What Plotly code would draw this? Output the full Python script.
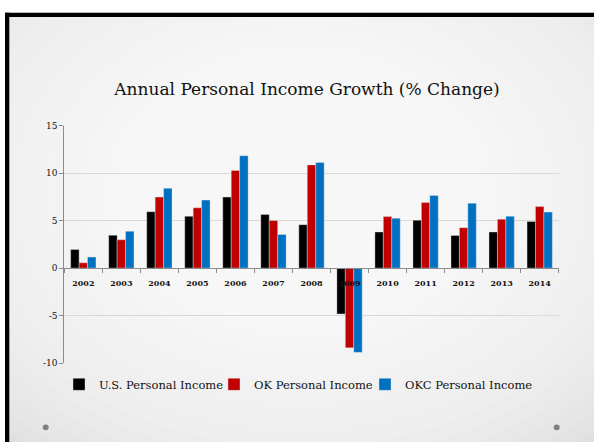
import plotly.graph_objects as go

years = ["2002", "2003", "2004", "2005", "2006", "2007", "2008",
         "2009", "2010", "2011", "2012", "2013", "2014"]
us_income = [1.95, 3.46, 5.93, 5.45, 7.47, 5.65, 4.56, -4.83, 3.8, 5.04, 3.43, 3.8, 4.9]
ok_income = [0.55, 2.98, 7.47, 6.34, 10.28, 5.0, 10.86, -8.39, 5.42, 6.89, 4.25, 5.14, 6.47]
okc_income = [1.16, 3.87, 8.4, 7.16, 11.82, 3.53, 11.1, -8.87, 5.24, 7.64, 6.82, 5.45, 5.89]
y_ticks = [-10, -5, 0, 5, 10, 15]

W, H = 594, 447
def px(x):
    return x / W
def py(y):
    return (H - y) / H

SERIF = "DejaVu Serif"

fig = go.Figure()
series = [("U.S. Personal Income", us_income, "#000000", "legend"),
          ("OK Personal Income", ok_income, "#C00000", "legend2"),
          ("OKC Personal Income", okc_income, "#0070C0", "legend3")]
for name, vals, col, lg in series:
    fig.add_trace(go.Bar(x=years, y=vals, name=name, legend=lg,
                         marker=dict(color=col, line=dict(color="rgba(230,230,230,0.8)", width=0.5))))

shapes = []
# slide background
shapes.append(dict(type="rect", xref="paper", yref="paper", x0=px(5), x1=px(594), y0=py(447), y1=py(8),
                   fillcolor="#d9d9d9", line=dict(width=0), layer="below"))
# radial gradient approximation
cx, cy = 300, 190
n = 26
for i in range(n):
    f = 1 - i / n
    rx, ry = 470 * f, 360 * f
    shapes.append(dict(type="circle", xref="paper", yref="paper",
                       x0=px(cx - rx), x1=px(cx + rx), y0=py(cy + ry), y1=py(cy - ry),
                       fillcolor="rgba(255,255,255,0.11)", line=dict(width=0), layer="below"))
# white margin outside slide (cover gradient overflow)
shapes.append(dict(type="rect", xref="paper", yref="paper", x0=0, x1=px(5), y0=0, y1=1,
                   fillcolor="white", line=dict(width=0), layer="below"))
shapes.append(dict(type="rect", xref="paper", yref="paper", x0=0, x1=1, y0=py(8), y1=1,
                   fillcolor="white", line=dict(width=0), layer="below"))
# black frame
shapes.append(dict(type="rect", xref="paper", yref="paper", x0=px(5), x1=px(9.3), y0=0, y1=py(8),
                   fillcolor="black", line=dict(width=0), layer="above"))
shapes.append(dict(type="rect", xref="paper", yref="paper", x0=px(5), x1=1, y0=py(12.3), y1=py(8),
                   fillcolor="black", line=dict(width=0), layer="above"))
# dots
for dx in (45.7, 556.7):
    shapes.append(dict(type="circle", xref="paper", yref="paper",
                       x0=px(dx - 3), x1=px(dx + 3), y0=py(432 + 3), y1=py(432 - 3),
                       fillcolor="#7f7f7f", line=dict(width=0)))

y_dom = [py(366.3), py(123.3)]
zero_pos = y_dom[0] + (0 - (-10)) / 25 * (y_dom[1] - y_dom[0])

def leg(xleft):
    return dict(orientation="h", x=px(xleft), xanchor="left", y=py(388), yanchor="middle",
                font=dict(family=SERIF, size=11.5, color="#111111"), bgcolor="rgba(0,0,0,0)",
                itemwidth=30)

fig.update_layout(
    width=W, height=H, autosize=False,
    margin=dict(l=0, r=0, t=0, b=0),
    paper_bgcolor="white", plot_bgcolor="white",
    barmode="group", bargap=0.335, bargroupgap=0,
    shapes=shapes,
    title=dict(text="Annual Personal Income Growth (% Change)", x=px(307), xanchor="center",
               y=py(89), yanchor="middle", font=dict(family=SERIF, size=17, color="#111111")),
    xaxis=dict(domain=[px(64.3), px(558.7)], anchor="free", position=zero_pos,
               showline=True, linecolor="#8c8c8c", linewidth=1,
               ticks="outside", tickson="boundaries", ticklen=4, tickcolor="#8c8c8c",
               ticklabelstandoff=7,
               tickfont=dict(family=SERIF, size=8, color="#111111"),
               showgrid=False, fixedrange=True),
    yaxis=dict(domain=y_dom, range=[-10, 15], tickvals=y_ticks, ticktext=[str(v) for v in y_ticks],
               showline=True, linecolor="#8c8c8c", linewidth=1,
               ticks="outside", ticklen=4, tickcolor="#8c8c8c",
               showgrid=True, gridcolor="#d9d9d9", gridwidth=1, zeroline=False,
               tickfont=dict(family=SERIF, size=9, color="#111111"), fixedrange=True),
    legend=leg(59),
    legend2=leg(214),
    legend3=leg(365),
    showlegend=True,
)
fig.update_xaxes(tickprefix="<b>", ticksuffix="</b>")
fig.update_yaxes(tickprefix="<b>", ticksuffix="</b>")

fig.write_html("out.html", config={"displayModeBar": False},
               post_script="document.body.style.margin='0';document.body.style.overflow='hidden';")
